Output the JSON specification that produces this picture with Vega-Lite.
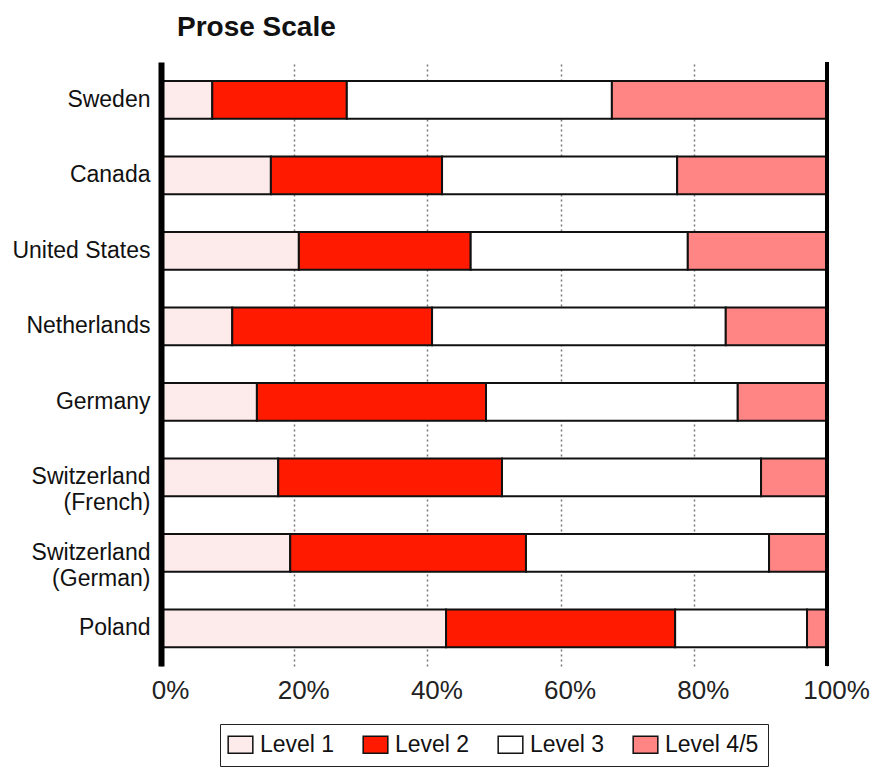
{
  "$schema": "https://vega.github.io/schema/vega-lite/v6.json",
  "autosize": "none",
  "width": 666,
  "height": 604,
  "padding": {"left": 161, "top": 62, "right": 50, "bottom": 102},
  "background": "white",
  "title": {"text": "Prose Scale", "anchor": "start", "frame": "group", "dx": 16, "offset": 19, "font": "Liberation Sans", "fontSize": 28, "fontWeight": "bold", "color": "#111"},
  "config": {"view": {"stroke": null}, "font": "Liberation Sans"},
  "data": {"values": [
    {"country": "Sweden", "level": "Level 1", "ord": 1, "value": 7.7},
    {"country": "Sweden", "level": "Level 2", "ord": 2, "value": 20.2},
    {"country": "Sweden", "level": "Level 3", "ord": 3, "value": 39.8},
    {"country": "Sweden", "level": "Level 4/5", "ord": 4, "value": 32.3},
    {"country": "Canada", "level": "Level 1", "ord": 1, "value": 16.5},
    {"country": "Canada", "level": "Level 2", "ord": 2, "value": 25.7},
    {"country": "Canada", "level": "Level 3", "ord": 3, "value": 35.3},
    {"country": "Canada", "level": "Level 4/5", "ord": 4, "value": 22.5},
    {"country": "United States", "level": "Level 1", "ord": 1, "value": 20.7},
    {"country": "United States", "level": "Level 2", "ord": 2, "value": 25.8},
    {"country": "United States", "level": "Level 3", "ord": 3, "value": 32.6},
    {"country": "United States", "level": "Level 4/5", "ord": 4, "value": 20.9},
    {"country": "Netherlands", "level": "Level 1", "ord": 1, "value": 10.7},
    {"country": "Netherlands", "level": "Level 2", "ord": 2, "value": 30.0},
    {"country": "Netherlands", "level": "Level 3", "ord": 3, "value": 44.1},
    {"country": "Netherlands", "level": "Level 4/5", "ord": 4, "value": 15.2},
    {"country": "Germany", "level": "Level 1", "ord": 1, "value": 14.4},
    {"country": "Germany", "level": "Level 2", "ord": 2, "value": 34.4},
    {"country": "Germany", "level": "Level 3", "ord": 3, "value": 37.8},
    {"country": "Germany", "level": "Level 4/5", "ord": 4, "value": 13.4},
    {"country": "Switzerland (French)", "level": "Level 1", "ord": 1, "value": 17.6},
    {"country": "Switzerland (French)", "level": "Level 2", "ord": 2, "value": 33.6},
    {"country": "Switzerland (French)", "level": "Level 3", "ord": 3, "value": 38.9},
    {"country": "Switzerland (French)", "level": "Level 4/5", "ord": 4, "value": 9.9},
    {"country": "Switzerland (German)", "level": "Level 1", "ord": 1, "value": 19.4},
    {"country": "Switzerland (German)", "level": "Level 2", "ord": 2, "value": 35.4},
    {"country": "Switzerland (German)", "level": "Level 3", "ord": 3, "value": 36.5},
    {"country": "Switzerland (German)", "level": "Level 4/5", "ord": 4, "value": 8.7},
    {"country": "Poland", "level": "Level 1", "ord": 1, "value": 42.8},
    {"country": "Poland", "level": "Level 2", "ord": 2, "value": 34.4},
    {"country": "Poland", "level": "Level 3", "ord": 3, "value": 19.8},
    {"country": "Poland", "level": "Level 4/5", "ord": 4, "value": 3.0}
  ]},
  "layer": [
    {
      "mark": {"type": "bar", "stroke": "#111", "strokeWidth": 2},
      "encoding": {
        "y": {
          "field": "country", "type": "nominal", "sort": null,
          "scale": {"paddingInner": 0.5, "paddingOuter": 0.25},
          "axis": {
            "title": null, "ticks": false, "labelPadding": 11, "zindex": 1,
            "domainColor": "#000", "domainWidth": 6,
            "labelFont": "Liberation Sans", "labelFontSize": 23, "labelColor": "#111",
            "labelLineHeight": 26,
            "labelExpr": "indexof(datum.label, ' (') > 0 ? split(replace(datum.label, ' (', '|('), '|') : datum.label"
          }
        },
        "x": {
          "field": "value", "type": "quantitative", "stack": "normalize",
          "scale": {"domain": [0, 1]},
          "axis": {
            "title": null, "format": "%", "values": [0, 0.2, 0.4, 0.6, 0.8, 1],
            "ticks": false, "domain": false, "labelPadding": 11, "labelFlush": false, "labelOffset": 9,
            "labelFont": "Liberation Sans", "labelFontSize": 26, "labelColor": "#222",
            "grid": true, "gridColor": "#777", "gridDash": [2, 3], "gridWidth": 1.5
          }
        },
        "color": {
          "field": "level", "type": "nominal",
          "scale": {"domain": ["Level 1", "Level 2", "Level 3", "Level 4/5"], "range": ["#fdeaea", "#ff1a00", "#ffffff", "#ff8585"]},
          "legend": {
            "title": null, "orient": "none", "legendX": 59, "legendY": 662,
            "direction": "horizontal", "strokeColor": "#222", "padding": 9,
            "labelFont": "Liberation Sans", "labelFontSize": 23, "labelColor": "#111",
            "symbolType": "M-1.45,-1L1.45,-1L1.45,1L-1.45,1Z", "symbolSize": 289,
            "symbolStrokeColor": "#111", "symbolStrokeWidth": 1.5, "symbolOpacity": 1,
            "columnPadding": 25, "labelOffset": 8
          }
        },
        "order": {"field": "ord", "type": "quantitative"}
      }
    },
    {
      "mark": {"type": "rule", "color": "#000", "strokeWidth": 3},
      "encoding": {"x": {"datum": 1}}
    }
  ]
}
